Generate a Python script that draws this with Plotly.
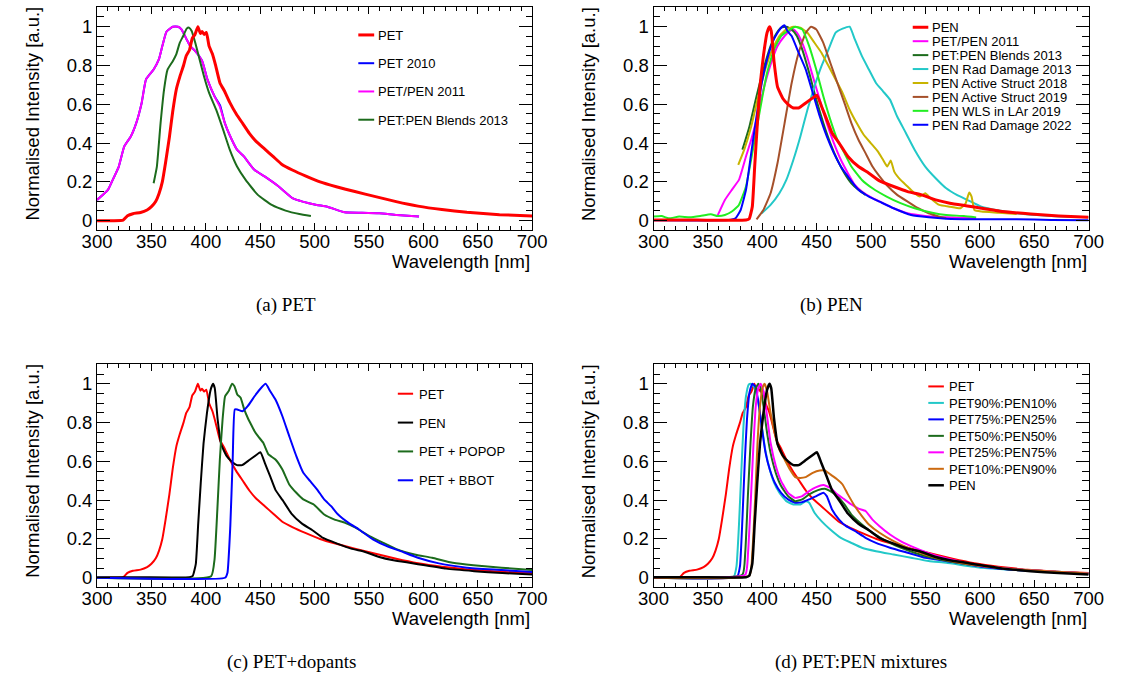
import plotly.graph_objects as go

W, H = 1126, 680

# ---------------- data ----------------
PET_x = [300, 315, 324, 328, 333, 340, 346, 350, 354, 357, 360, 363, 366.5, 369.5, 373, 376, 379.5, 382, 385,
         387.5, 390, 392.7, 395, 396.5, 398.5, 400.5, 403, 406, 409, 413, 417, 422, 428, 434, 440, 446, 454, 462,
         470, 480, 492, 505, 520, 537, 556, 575, 595, 617, 640, 670, 700]
PET_y = [0.0, 0.0, 0.003, 0.025, 0.036, 0.042, 0.055, 0.072, 0.1, 0.14, 0.2, 0.3, 0.43, 0.56, 0.68, 0.74, 0.8,
         0.85, 0.88, 0.94, 0.96, 1.0, 0.965, 0.975, 0.96, 0.97, 0.9, 0.86, 0.8, 0.71, 0.67, 0.61, 0.55, 0.5, 0.45,
         0.41, 0.37, 0.33, 0.29, 0.26, 0.23, 0.2, 0.175, 0.15, 0.124, 0.098, 0.075, 0.057, 0.043, 0.031, 0.024]

PEN_x = [300, 340, 385, 388, 390.8, 393, 395.3, 397.9, 401, 404.4, 406.6, 408.2, 410.8, 414, 418.9, 423.7, 428.6,
         433.4, 440, 446.4, 450.2, 454.4, 459.3, 464.1, 470.6, 478.7, 488.4, 498, 507.8, 520.7, 533.6, 546.5,
         559.4, 572.4, 588.5, 601.5, 620.8, 646.7, 672.5, 700]
PEN_y = [0.003, 0.003, 0.003, 0.01, 0.072, 0.279, 0.486, 0.693, 0.848, 0.969, 1.0, 0.978, 0.82, 0.69, 0.63, 0.6,
         0.581, 0.581, 0.607, 0.633, 0.647, 0.59, 0.521, 0.452, 0.4, 0.331, 0.279, 0.245, 0.205, 0.176, 0.15,
         0.133, 0.107, 0.09, 0.076, 0.064, 0.047, 0.034, 0.024, 0.017]

# panel (a) literature spectra
PET2010_x = [300, 310, 313.7, 320, 325, 331, 336, 341, 345, 352, 356.8, 360, 363.8, 369.6, 374.4, 377.6, 382.4,
             385.6, 390.3, 396.7, 401.5, 408, 413, 417.5, 423.9, 428.7, 435, 444.6, 454, 467, 479.7, 489, 502,
             511.7, 527.6, 543.6, 559.5, 575.5, 596]
PET2010_y = [0.107, 0.159, 0.202, 0.279, 0.383, 0.434, 0.503, 0.607, 0.728, 0.779, 0.831, 0.9, 0.974, 1.0, 1.0,
             0.986, 0.934, 0.9, 0.874, 0.822, 0.728, 0.641, 0.595, 0.503, 0.417, 0.366, 0.331, 0.262, 0.228,
             0.176, 0.116, 0.098, 0.081, 0.072, 0.043, 0.041, 0.038, 0.029, 0.021]
PETPEN2011a_x = [300, 310, 313.7, 320, 325, 331, 336, 341, 345, 352, 356.8, 360, 363.8, 369.6, 374.4, 377.6,
                 382.4, 385.6, 390.3, 396.7, 401.5, 408, 412.7, 417.5, 423.9, 428.7, 435, 444.6, 454, 467, 479.7,
                 489, 502, 511.7, 527.6, 543.6, 559.5, 575.5, 596]
PETPEN2011a_y = [0.107, 0.159, 0.202, 0.279, 0.383, 0.434, 0.503, 0.607, 0.728, 0.779, 0.831, 0.9, 0.974, 1.0,
                 1.0, 0.986, 0.934, 0.9, 0.874, 0.822, 0.728, 0.641, 0.59, 0.503, 0.417, 0.366, 0.331, 0.262,
                 0.228, 0.176, 0.116, 0.098, 0.081, 0.072, 0.043, 0.041, 0.038, 0.029, 0.021]
Blends2013a_x = [352, 355, 358.4, 361.6, 364.8, 369.6, 372.8, 376, 379.2, 382.4, 384.6, 387, 390.3, 393.5, 398.3,
                 403, 409.5, 415.9, 422, 428.7, 436.6, 447.8, 460.6, 473.3, 486, 496.6]
Blends2013a_y = [0.193, 0.279, 0.503, 0.676, 0.779, 0.822, 0.857, 0.917, 0.952, 0.99, 0.995, 0.978, 0.917, 0.848,
                 0.745, 0.659, 0.572, 0.469, 0.366, 0.279, 0.21, 0.133, 0.081, 0.052, 0.034, 0.024]

# panel (b) literature spectra
PETPEN2011b_x = [359.1, 365.6, 372, 378.5, 385, 389.8, 394.7, 399.5, 404.4, 409.2, 414, 420.5, 425.4, 428.6,
                 431.8, 436.7, 441.5, 446.4, 452.8, 459.3, 465.8, 472.2, 478.7, 485.1, 491.6, 501.3, 511, 520.7,
                 533.6, 549.8, 569.1, 596.6]
PETPEN2011b_y = [0.029, 0.107, 0.159, 0.21, 0.331, 0.417, 0.521, 0.641, 0.745, 0.831, 0.9, 0.952, 0.978, 0.986,
                 0.969, 0.917, 0.84, 0.745, 0.624, 0.503, 0.4, 0.314, 0.245, 0.184, 0.15, 0.116, 0.09, 0.064,
                 0.038, 0.024, 0.017, 0.012]
Blends2013b_x = [381.7, 388.2, 394.7, 401, 407.6, 412.4, 417.3, 422.1, 427, 431.8, 436.7, 443.1, 449.6, 456.1,
                 462.5, 469, 475.5, 481.9, 488.4, 494.9]
Blends2013b_y = [0.366, 0.486, 0.641, 0.779, 0.9, 0.96, 0.995, 1.0, 0.986, 0.952, 0.883, 0.762, 0.624, 0.503,
                 0.4, 0.314, 0.245, 0.193, 0.159, 0.133]
RadDam2013_x = [399.5, 407.6, 415.7, 422.1, 428.6, 435, 441.5, 448, 454.4, 460.9, 467.4, 473.8, 480.3, 485.1,
                491.6, 498, 504.5, 511, 517.4, 523.9, 532, 540, 549.8, 559.4, 569.1, 578.8, 588.5, 601.5, 617.6,
                633.8, 666, 700]
RadDam2013_y = [0.038, 0.081, 0.141, 0.21, 0.314, 0.434, 0.572, 0.693, 0.797, 0.883, 0.969, 0.99, 1.0, 0.934,
                0.848, 0.779, 0.71, 0.667, 0.624, 0.538, 0.452, 0.366, 0.279, 0.219, 0.167, 0.133, 0.107, 0.072,
                0.052, 0.038, 0.024, 0.017]
Active2018_x = [377.9, 383.4, 389.8, 396.3, 402.7, 409.2, 415.7, 422.1, 428.6, 435, 441.5, 448, 454.4, 460.9,
                467.4, 473.8, 480.3, 486.8, 493.2, 499.7, 506.2, 511, 514.9, 518.1, 521.3, 527.1, 533.6, 540,
                544.9, 549.8, 554.6, 562.7, 572.4, 582.1, 587, 590.2, 592.4, 595, 601.5, 617.6, 633.8]
Active2018_y = [0.288, 0.366, 0.486, 0.641, 0.779, 0.883, 0.952, 0.986, 1.0, 0.995, 0.969, 0.917, 0.866, 0.797,
                0.728, 0.659, 0.572, 0.503, 0.443, 0.4, 0.357, 0.314, 0.279, 0.31, 0.253, 0.21, 0.176, 0.141,
                0.124, 0.141, 0.116, 0.081, 0.072, 0.064, 0.09, 0.145, 0.124, 0.055, 0.047, 0.041, 0.034]
Active2019_x = [394.7, 401, 407.6, 414, 420.5, 427, 433.4, 440, 444.8, 449.6, 456.1, 462.5, 469, 475.5, 481.9,
                488.4, 494.9, 501.3, 507.8, 514.3, 524, 533.6, 543.3, 553, 562.7, 569.1]
Active2019_y = [0.007, 0.055, 0.141, 0.297, 0.503, 0.71, 0.866, 0.969, 1.0, 0.986, 0.917, 0.814, 0.71, 0.607,
                0.503, 0.417, 0.348, 0.279, 0.228, 0.184, 0.133, 0.098, 0.064, 0.038, 0.021, 0.012]
WLS2019_x = [300, 307.4, 313.9, 323.6, 333.3, 343, 352.7, 359, 365.6, 372, 378.5, 385, 391.4, 397.9, 404.4, 410.8,
             417.3, 423.7, 430.2, 436.7, 443.1, 449.6, 456.1, 462.5, 469, 475.5, 481.9, 491.6, 501.3, 514.3, 527.1,
             540, 556.2, 569.1, 585.3, 596.6]
WLS2019_y = [0.021, 0.024, 0.012, 0.021, 0.017, 0.024, 0.033, 0.024, 0.029, 0.047, 0.081, 0.176, 0.366, 0.572,
             0.762, 0.883, 0.952, 0.978, 1.0, 0.986, 0.9, 0.779, 0.641, 0.521, 0.417, 0.348, 0.279, 0.21, 0.167,
             0.124, 0.09, 0.064, 0.041, 0.029, 0.024, 0.017]
RadDam2022_x = [300, 368.8, 375.3, 380.1, 385, 389.8, 394.7, 399.5, 404.4, 409.2, 414, 418.9, 420.5, 423.1, 427,
                433.4, 440, 446.4, 452.8, 459.3, 465.8, 472.2, 478.7, 488.4, 498, 507.8, 520.7, 536.8, 553, 569.1,
                601.5, 633.8, 666, 700]
RadDam2022_y = [0.002, 0.003, 0.012, 0.055, 0.159, 0.348, 0.538, 0.71, 0.831, 0.917, 0.969, 1.003, 1.007, 0.978,
                0.952, 0.866, 0.779, 0.659, 0.538, 0.434, 0.348, 0.279, 0.228, 0.159, 0.124, 0.098, 0.064, 0.029,
                0.017, 0.01, 0.007, 0.007, 0.004, 0.002]

# panel (c) doped PET
POPOP_x = [300, 404.9, 408, 410.6, 412.9, 415.4, 417.7, 420.9, 424.1, 426.3, 428.9, 432, 435.3, 438.5, 441.6,
           444.8, 448, 452.8, 457.6, 464, 470.4, 476.7, 483.2, 489.6, 499.2, 508.8, 518.4, 528, 537.6, 550.4, 563.2,
           576, 592, 608, 627, 646, 671.8, 700]
POPOP_y = [0.0, 0.008, 0.094, 0.352, 0.61, 0.816, 0.936, 0.962, 1.0, 0.988, 0.945, 0.928, 0.868, 0.825, 0.79,
           0.756, 0.73, 0.696, 0.636, 0.61, 0.558, 0.481, 0.438, 0.404, 0.378, 0.326, 0.3, 0.283, 0.258, 0.215,
           0.18, 0.146, 0.12, 0.103, 0.077, 0.064, 0.052, 0.04]
BBOT_x = [300, 417.7, 419.9, 422.5, 424.7, 426.6, 428.9, 433.7, 438.5, 444.8, 449.6, 455, 459.2, 464, 470.4, 476.7,
          483.2, 489.6, 496, 502.4, 508.8, 515.2, 521.6, 531.2, 540.8, 553.6, 566.4, 579.2, 595, 614.3, 639.9,
          671.8, 700]
BBOT_y = [0.0, 0.0, 0.026, 0.266, 0.61, 0.868, 0.868, 0.859, 0.885, 0.936, 0.971, 1.0, 0.962, 0.919, 0.833, 0.73,
          0.627, 0.541, 0.498, 0.455, 0.404, 0.369, 0.326, 0.283, 0.249, 0.198, 0.163, 0.137, 0.103, 0.074, 0.052,
          0.04, 0.029]

# panel (d) PET:PEN mixtures
M90_x = [300, 373.7, 376.3, 378.5, 380.8, 382.7, 385, 387.6, 389.8, 393, 396.3, 399.5, 402.7, 406, 410.8, 415.7,
         422.1, 428.6, 435, 439.9, 443.1, 448, 454.4, 462.5, 472.2, 481.9, 491.6, 504.5, 520.7, 536.8, 553, 569.1,
         601.5, 633.8, 666, 700]
M90_y = [0.0, 0.005, 0.06, 0.266, 0.558, 0.782, 0.936, 0.997, 1.0, 0.979, 0.902, 0.782, 0.661, 0.576, 0.49, 0.438,
         0.395, 0.378, 0.378, 0.395, 0.387, 0.335, 0.292, 0.249, 0.206, 0.18, 0.155, 0.137, 0.12, 0.103, 0.086,
         0.077, 0.052, 0.04, 0.029, 0.021]
M75_x = [300, 376.9, 379.5, 381.7, 384, 385.9, 388.2, 390.8, 393.4, 396.6, 399.8, 403, 406.9, 411.5, 417.3, 423.7,
         430.2, 436.7, 443.1, 449.6, 456.1, 459.3, 464.1, 470.6, 477.1, 485.1, 494.9, 504.5, 517.4, 533.6, 549.8,
         569.1, 601.5, 633.8, 700]
M75_y = [0.0, 0.005, 0.06, 0.3, 0.61, 0.816, 0.954, 1.0, 0.988, 0.902, 0.765, 0.644, 0.558, 0.49, 0.438, 0.404,
         0.387, 0.39, 0.404, 0.421, 0.438, 0.421, 0.352, 0.3, 0.266, 0.241, 0.206, 0.18, 0.155, 0.129, 0.103, 0.086,
         0.057, 0.04, 0.021]
M50_x = [300, 381.7, 384.3, 386.9, 389.2, 391.4, 393.7, 396.3, 398.5, 401.1, 404.4, 407.6, 412.4, 417.3, 423.7,
         430.2, 436.7, 443.1, 451.2, 457.6, 462.5, 469, 475.5, 481.9, 491.6, 501.3, 514.3, 527.1, 540, 556.2, 575.5,
         601.5, 633.8, 700]
M50_y = [0.0, 0.015, 0.129, 0.438, 0.696, 0.885, 0.971, 1.0, 0.979, 0.885, 0.747, 0.644, 0.541, 0.473, 0.421,
         0.395, 0.404, 0.43, 0.452, 0.459, 0.447, 0.421, 0.378, 0.326, 0.275, 0.232, 0.189, 0.155, 0.129, 0.103,
         0.081, 0.06, 0.043, 0.022]
M25_x = [300, 384.3, 386.9, 389.5, 391.8, 394, 396.3, 398.5, 401.1, 404.4, 407.6, 412.4, 417.3, 423.7, 430.2, 436.7,
         443.1, 449.6, 456.1, 462.5, 469, 475.5, 481.9, 488.4, 494.9, 501.3, 507.8, 517.4, 527.1, 540, 556.2, 575.5,
         601.5, 633.8, 700]
M25_y = [0.0, 0.015, 0.129, 0.404, 0.679, 0.885, 0.979, 1.0, 0.962, 0.833, 0.696, 0.576, 0.498, 0.438, 0.412,
         0.421, 0.447, 0.467, 0.478, 0.464, 0.43, 0.404, 0.378, 0.356, 0.344, 0.3, 0.266, 0.223, 0.189, 0.155, 0.12,
         0.091, 0.06, 0.043, 0.022]
M10_x = [300, 388.2, 390.8, 393.4, 395.6, 397.9, 400.2, 402.1, 404.4, 407.6, 411.5, 415.7, 420.5, 425.4, 430.2, 435,
         439.9, 446.4, 452.8, 457.6, 462.5, 469, 473.8, 478.7, 485.1, 491.6, 498, 507.8, 520.7, 533.6, 549.8, 569.1,
         601.5, 633.8, 700]
M10_y = [0.0, 0.012, 0.129, 0.404, 0.696, 0.885, 0.979, 1.0, 0.962, 0.85, 0.747, 0.661, 0.61, 0.558, 0.519, 0.515,
         0.519, 0.541, 0.553, 0.553, 0.533, 0.507, 0.481, 0.43, 0.369, 0.318, 0.275, 0.232, 0.189, 0.155, 0.12,
         0.091, 0.06, 0.043, 0.022]

# legend / caption texts
LEG_A = ["PET", "PET 2010", "PET/PEN 2011", "PET:PEN Blends 2013"]
LEG_B = ["PEN", "PET/PEN 2011", "PET:PEN Blends 2013", "PEN Rad Damage 2013", "PEN Active Struct 2018",
         "PEN Active Struct 2019", "PEN WLS in LAr 2019", "PEN Rad Damage 2022"]
LEG_C = ["PET", "PEN", "PET + POPOP", "PET + BBOT"]
LEG_D = ["PET", "PET90%:PEN10%", "PET75%:PEN25%", "PET50%:PEN50%", "PET25%:PEN75%", "PET10%:PEN90%", "PEN"]
CAPTIONS = ["(a) PET", "(b) PEN", "(c) PET+dopants", "(d) PET:PEN mixtures"]
XTITLE = "Wavelength [nm]"
YTITLE = "Normalised Intensity [a.u.]"

# ---------------- styling ----------------
RED, BLUE, MAG, DGREEN = "#ff0000", "#0000ff", "#ff00ff", "#1c6b1c"
CYAN, OLIVE, BROWN, LGREEN = "#22c8c8", "#c8b400", "#a5502a", "#22ee22"
ORANGE, BLACK = "#cc6a10", "#000000"
SANS = "Liberation Sans, Arial, sans-serif"
SERIF = "Liberation Serif, Times New Roman, serif"

# panel frames in pixels: (left, right, top, bottom)
FR = {1: (84.3, 531.3, 7.3, 230.7), 2: (656, 1103, 7.3, 230.7),
      3: (84.3, 531.3, 365, 588.3), 4: (656, 1103, 365, 588.3)}

fig = go.Figure()

panels = {
    1: [(PET2010_x, PET2010_y, BLUE, 2), (PETPEN2011a_x, PETPEN2011a_y, MAG, 2),
        (Blends2013a_x, Blends2013a_y, DGREEN, 2), (PET_x, PET_y, RED, 3)],
    2: [(PETPEN2011b_x, PETPEN2011b_y, MAG, 2), (Blends2013b_x, Blends2013b_y, DGREEN, 2),
        (RadDam2013_x, RadDam2013_y, CYAN, 2), (Active2018_x, Active2018_y, OLIVE, 2),
        (Active2019_x, Active2019_y, BROWN, 2), (WLS2019_x, WLS2019_y, LGREEN, 2),
        (RadDam2022_x, RadDam2022_y, BLUE, 2), (PEN_x, PEN_y, RED, 3)],
    3: [(PET_x, PET_y, RED, 2), (PEN_x, PEN_y, BLACK, 2), (POPOP_x, POPOP_y, DGREEN, 2),
        (BBOT_x, BBOT_y, BLUE, 2)],
    4: [(PET_x, PET_y, RED, 2), (M90_x, M90_y, CYAN, 2), (M75_x, M75_y, BLUE, 2), (M50_x, M50_y, DGREEN, 2),
        (M25_x, M25_y, MAG, 2), (M10_x, M10_y, ORANGE, 2), (PEN_x, PEN_y, BLACK, 2.5)],
}

for p, traces in panels.items():
    xa = "x" if p == 1 else f"x{p}"
    ya = "y" if p == 1 else f"y{p}"
    for xs, ys, col, lw in traces:
        fig.add_trace(go.Scatter(x=xs, y=ys, mode="lines", xaxis=xa, yaxis=ya, showlegend=False,
                                 line=dict(color=col, width=lw, shape="spline", smoothing=0.4),
                                 hoverinfo="skip"))

layout = dict(width=W, height=H, margin=dict(l=0, r=0, t=0, b=0), paper_bgcolor="white",
              plot_bgcolor="white", showlegend=False)

for p, (l, r, t, b) in FR.items():
    sx = "" if p == 1 else str(p)
    layout["xaxis" + sx] = dict(
        domain=[l / W, r / W], anchor="y" + sx, range=[300, 700], tick0=300, dtick=50,
        ticks="inside", ticklen=7, tickwidth=1, tickcolor="black", showline=True, linecolor="black",
        linewidth=1, mirror="ticks", showgrid=False, zeroline=False, ticklabelstandoff=-6,
        tickfont=dict(family=SANS, size=18.5, color="black"),
        minor=dict(tick0=300, dtick=10, ticks="inside", ticklen=4, tickwidth=1, tickcolor="black",
                   showgrid=False))
    layout["yaxis" + sx] = dict(
        domain=[1 - b / H, 1 - t / H], anchor="x" + sx, range=[-0.05, 1.1], tick0=0, dtick=0.2,
        ticks="inside", ticklen=13, tickwidth=1, tickcolor="black", showline=True, linecolor="black",
        linewidth=1, mirror="ticks", showgrid=False, zeroline=False,
        tickfont=dict(family=SANS, size=18.5, color="black"),
        minor=dict(tick0=0, dtick=0.05, ticks="inside", ticklen=6.5, tickwidth=1, tickcolor="black",
                   showgrid=False))

fig.update_layout(**layout)

annotations = []
shapes = []

# axis titles
for p, (l, r, t, b) in FR.items():
    annotations.append(dict(text=XTITLE, xref="paper", yref="paper", x=r / W, y=1 - (b + 31) / H,
                            xanchor="right", yanchor="middle", showarrow=False,
                            font=dict(family=SANS, size=18.5, color="black")))
    annotations.append(dict(text=YTITLE, xref="paper", yref="paper", x=(l - 66) / W, y=1 - (t - 2.5) / H,
                            xanchor="center", yanchor="top", textangle=-90, showarrow=False,
                            font=dict(family=SANS, size=18.5, color="black")))

# captions
for txt, cx, cy in zip(CAPTIONS, [278, 839, 284, 869], [305, 305, 663, 663]):
    annotations.append(dict(text=txt, xref="paper", yref="paper", x=cx / W, y=1 - cy / H, xanchor="center",
                            yanchor="middle", showarrow=False, font=dict(family=SERIF, size=19, color="black")))

# legends (drawn as line samples + labels)
legends = [
    (LEG_A, [RED, BLUE, MAG, DGREEN], [3, 2, 2, 2], 352.7, 369, 371, 35, 28.3),
    (LEG_B, [RED, MAG, DGREEN, CYAN, OLIVE, BROWN, LGREEN, BLUE], [3, 2, 2, 2, 2, 2, 2, 2],
     922.3, 938.3, 940.3, 27.3, 13.95),
    (LEG_C, [RED, BLACK, DGREEN, BLUE], [2, 2, 2, 2], 393.3, 409, 412.5, 394.3, 28.9),
    (LEG_D, [RED, CYAN, BLUE, DGREEN, MAG, ORANGE, BLACK], [2, 2, 2, 2, 2, 2, 2.5],
     938.3, 954.3, 957, 387, 16.5),
]
for labels, cols, lws, x0, x1, xt, y0, dy in legends:
    for i, (lab, col, lw) in enumerate(zip(labels, cols, lws)):
        yy = y0 + i * dy
        shapes.append(dict(type="line", xref="paper", yref="paper", x0=x0 / W, x1=x1 / W,
                           y0=1 - yy / H, y1=1 - yy / H, line=dict(color=col, width=lw)))
        annotations.append(dict(text=lab, xref="paper", yref="paper", x=xt / W, y=1 - (yy + 0.5) / H,
                                xanchor="left", yanchor="middle", showarrow=False,
                                font=dict(family=SANS, size=13, color="black")))

fig.update_layout(annotations=annotations, shapes=shapes)
fig.write_html("out.html", config={"displayModeBar": False},
               post_script="document.body.style.margin='0';document.body.style.overflow='hidden';")
